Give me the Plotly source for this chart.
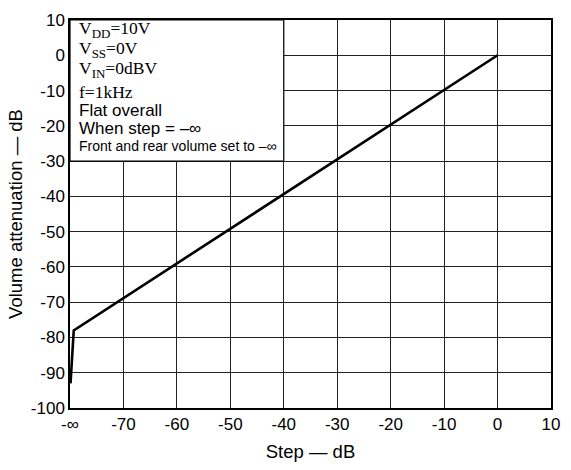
import plotly.graph_objects as go

# Data
step = [-79.9, -79.3, 0]
attenuation = [-93, -78, 0]

x_tickvals = [-80, -70, -60, -50, -40, -30, -20, -10, 0, 10]
x_ticktext = ["-∞", "-70", "-60", "-50", "-40", "-30", "-20", "-10", "0", "10"]
y_tickvals = [10, 0, -10, -20, -30, -40, -50, -60, -70, -80, -90, -100]
y_ticktext = ["10", "0", "-10", "-20", "-30", "-40", "-50", "-60", "-70", "-80", "-90", "-100"]

sub = '<sub><span style="font-size:13px">{}</span></sub>'
notes_serif = ["V" + sub.format("DD") + "=10V", "V" + sub.format("SS") + "=0V",
               "V" + sub.format("IN") + "=0dBV", "f=1kHz"]
notes_sans = ["Flat overall", "When step = –∞", "Front and rear volume set to –∞"]

fig = go.Figure()
fig.add_trace(go.Scatter(x=step, y=attenuation, mode="lines",
                         line=dict(color="black", width=2.6), showlegend=False))

fig.add_shape(type="rect", xref="x", yref="y", x0=-80, x1=-40, y0=-30, y1=10,
              fillcolor="white", line=dict(color="black", width=1.2), layer="above")

serif_y = [7.3, 1.5, -4.1, -10.4]
for t, yv in zip(notes_serif, serif_y):
    fig.add_annotation(x=-78.6, y=yv, xref="x", yref="y", text=t, showarrow=False,
                       xanchor="left", yanchor="middle",
                       font=dict(family="Liberation Serif", size=17.5, color="black"))
sans_y = [-15.6, -20.7, -25.6]
sans_size = [17, 17, 14]
for t, yv, s in zip(notes_sans, sans_y, sans_size):
    fig.add_annotation(x=-78.6, y=yv, xref="x", yref="y", text=t, showarrow=False,
                       xanchor="left", yanchor="middle",
                       font=dict(family="Liberation Sans", size=s, color="black"))

axis_common = dict(showgrid=True, gridcolor="#222", gridwidth=1, zeroline=False,
                   showline=True, linecolor="black", linewidth=1.5, mirror=True,
                   ticks="", tickfont=dict(family="Liberation Sans", size=17, color="black"))

fig.update_xaxes(range=[-80, 10], tickvals=x_tickvals, ticktext=x_ticktext,
                 title=dict(text="Step — dB", font=dict(family="Liberation Sans", size=18.5, color="black"), standoff=12),
                 **axis_common)
fig.update_yaxes(range=[-100, 10], tickvals=y_tickvals, ticktext=y_ticktext,
                 title=dict(text="Volume attenuation — dB", font=dict(family="Liberation Sans", size=18.5, color="black"), standoff=3),
                 **axis_common)

fig.update_layout(width=571, height=470, margin=dict(l=70, r=11, t=15, b=58),
                  plot_bgcolor="white", paper_bgcolor="white")

fig.write_html("out.html")
